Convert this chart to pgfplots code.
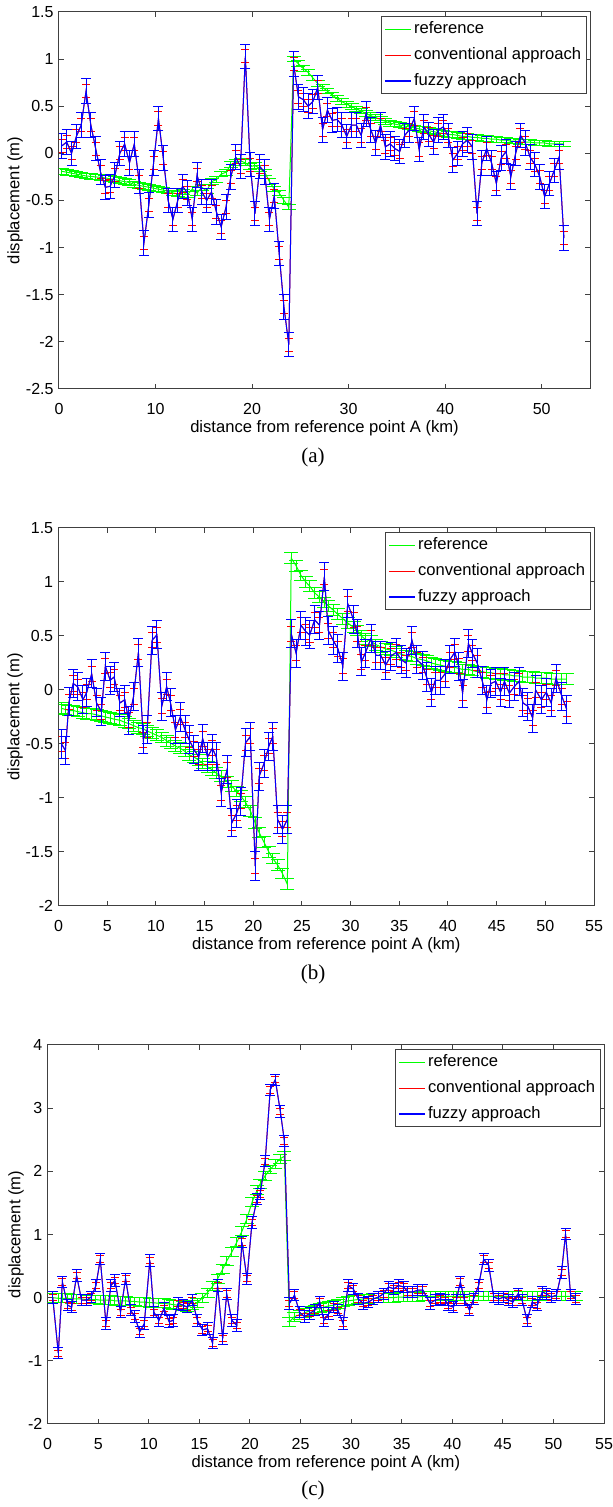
\documentclass[border=0pt]{standalone}
\usepackage{pgfplots}
\pgfplotsset{compat=1.18}
\usepackage{pgfplotstable}
\usepackage{fontspec}
\setmainfont{Liberation Sans}
\newfontfamily\capfont{Liberation Serif}

% panel (a): x, reference, estimated displacement
\pgfplotstableread{
x ref disp
0.3 -0.19 0.08
0.8 -0.20 0.12
1.3 -0.21 0.00
1.8 -0.22 0.18
2.3 -0.23 0.30
2.8 -0.24 0.66
3.3 -0.245 0.30
3.8 -0.25 0.05
4.3 -0.255 -0.20
4.8 -0.26 -0.36
5.3 -0.27 -0.35
5.8 -0.28 -0.23
6.3 -0.29 0.00
6.8 -0.30 0.10
7.3 -0.31 -0.10
7.8 -0.33 0.10
8.3 -0.34 -0.30
8.8 -0.35 -0.95
9.3 -0.36 -0.55
9.8 -0.37 -0.10
10.3 -0.38 0.37
10.8 -0.39 -0.05
11.3 -0.40 -0.50
11.8 -0.42 -0.70
12.3 -0.43 -0.50
12.8 -0.41 -0.35
13.3 -0.44 -0.42
13.8 -0.38 -0.70
14.3 -0.42 -0.23
14.8 -0.36 -0.41
15.3 -0.40 -0.50
15.8 -0.30 -0.41
16.3 -0.28 -0.62
16.8 -0.22 -0.78
17.3 -0.20 -0.57
17.8 -0.12 -0.25
18.3 -0.10 -0.04
18.8 -0.08 -0.14
19.3 -0.10 1.03
19.8 -0.14 -0.12
20.3 -0.13 -0.64
20.8 -0.16 -0.14
21.3 -0.20 -0.20
21.8 -0.30 -0.70
22.3 -0.38 -0.45
22.8 -0.42 -1.06
23.3 -0.50 -1.63
23.8 -0.57 -2.03
24.3 1.00 0.95
24.8 0.95 0.60
25.3 0.90 0.57
25.8 0.86 0.50
26.3 0.80 0.55
26.8 0.74 0.70
27.3 0.70 0.25
27.8 0.66 0.46
28.3 0.62 0.35
28.8 0.58 0.36
29.3 0.55 0.30
29.8 0.52 0.18
30.3 0.50 0.30
30.8 0.47 0.30
31.3 0.45 0.19
31.8 0.42 0.42
32.3 0.40 0.25
32.8 0.38 0.11
33.3 0.36 0.30
33.8 0.34 0.07
34.3 0.32 0.10
34.8 0.31 0.05
35.3 0.30 0.02
35.8 0.29 0.19
36.3 0.28 0.25
36.8 0.27 0.37
37.3 0.26 0.04
37.8 0.25 0.28
38.3 0.24 0.20
38.8 0.23 0.12
39.3 0.22 0.25
39.8 0.21 0.28
40.3 0.20 0.19
40.8 0.20 -0.07
41.3 0.19 0.00
41.8 0.18 0.10
42.3 0.18 0.14
42.8 0.17 0.07
43.3 0.17 -0.64
43.8 0.16 -0.10
44.3 0.16 0.05
44.8 0.15 -0.10
45.3 0.15 -0.32
45.8 0.14 -0.05
46.3 0.14 0.02
46.8 0.13 -0.25
47.3 0.13 0.00
47.8 0.12 0.19
48.3 0.12 0.11
48.8 0.12 -0.04
49.3 0.11 -0.12
49.8 0.11 -0.25
50.3 0.11 -0.46
50.8 0.10 -0.32
51.3 0.10 -0.18
51.8 0.10 -0.04
52.3 0.10 -0.90
}\tabA

% panel (b)
\pgfplotstableread{
x ref disp
0.3 -0.17 -0.50
0.7 -0.18 -0.56
1.07 -0.19 -0.11
1.5 -0.19 0.06
1.96 -0.20 0.03
2.5 -0.21 -0.09
2.9 -0.22 -0.02
3.4 -0.22 0.15
3.9 -0.23 -0.12
4.4 -0.24 -0.20
4.8 -0.25 0.22
5.3 -0.26 0.09
5.7 -0.27 0.12
6.3 -0.28 -0.12
6.8 -0.30 -0.09
7.2 -0.31 -0.28
7.7 -0.33 -0.06
8.2 -0.35 0.35
8.7 -0.36 -0.46
9.1 -0.38 -0.37
9.6 -0.40 0.46
10.1 -0.42 0.51
10.6 -0.44 -0.15
11.1 -0.47 0.03
11.5 -0.49 -0.12
12.0 -0.52 -0.37
12.5 -0.54 -0.25
13.0 -0.57 -0.37
13.4 -0.60 -0.46
13.9 -0.62 -0.55
14.4 -0.65 -0.62
14.8 -0.68 -0.45
15.3 -0.71 -0.62
15.8 -0.74 -0.54
16.2 -0.77 -0.62
16.7 -0.80 -0.95
17.3 -0.85 -0.74
17.8 -0.89 -1.23
18.3 -0.94 -1.14
18.7 -0.98 -1.03
19.2 -1.04 -0.49
19.7 -1.12 -0.43
20.2 -1.23 -1.63
20.6 -1.32 -0.80
21.1 -1.41 -0.68
21.6 -1.50 -0.52
22.0 -1.56 -0.43
22.5 -1.62 -1.20
23.0 -1.70 -1.29
23.5 -1.80 -1.20
23.9 1.22 0.52
24.4 1.15 0.34
24.9 1.06 0.60
25.4 1.00 0.54
25.8 0.96 0.51
26.3 0.90 0.65
26.8 0.86 0.60
27.3 0.81 1.05
27.7 0.78 0.55
28.2 0.74 0.46
28.7 0.70 0.38
29.2 0.66 0.22
29.7 0.62 0.80
30.3 0.58 0.65
30.7 0.55 0.52
31.1 0.50 0.26
31.5 0.47 0.34
32.1 0.45 0.48
32.6 0.42 0.32
33.1 0.40 0.32
33.6 0.38 0.23
34.1 0.37 0.31
34.7 0.35 0.35
35.2 0.33 0.28
35.7 0.32 0.25
36.3 0.31 0.46
36.8 0.29 0.28
37.4 0.28 0.23
37.8 0.27 0.12
38.3 0.25 -0.02
38.7 0.24 0.09
39.2 0.23 0.09
39.7 0.22 0.15
40.2 0.21 0.28
40.7 0.21 0.35
41.1 0.20 0.22
41.5 0.19 -0.03
42.1 0.19 0.43
42.5 0.18 0.34
43.0 0.17 0.25
43.5 0.17 0.09
44.0 0.16 -0.09
44.4 0.16 0.06
44.9 0.15 0.08
45.4 0.15 -0.02
45.8 0.14 0.08
46.3 0.14 -0.03
46.8 0.13 0.03
47.3 0.13 0.08
47.7 0.12 -0.12
48.2 0.12 -0.15
48.7 0.12 -0.26
49.0 0.11 0.00
49.6 0.11 -0.09
50.1 0.11 -0.02
50.6 0.10 -0.12
51.1 0.10 0.11
51.7 0.10 -0.06
52.2 0.10 -0.18
}\tabB

% panel (c)
\pgfplotstableread{
x ref disp
0.5 0.00 0.00
1.05 -0.01 -0.88
1.45 -0.01 0.25
1.97 -0.01 -0.12
2.37 -0.02 -0.15
2.86 -0.02 0.35
3.35 -0.02 -0.04
3.85 -0.03 -0.04
4.3 -0.03 0.01
4.77 -0.03 0.19
5.2 -0.04 0.61
5.76 -0.04 -0.41
6.25 -0.04 0.19
6.65 -0.05 0.27
7.2 -0.05 -0.23
7.7 -0.05 0.30
8.2 -0.06 -0.20
8.6 -0.06 -0.30
9.1 -0.07 -0.54
9.55 -0.07 -0.41
10.1 -0.08 0.59
10.5 -0.08 -0.23
11.0 -0.09 -0.36
11.5 -0.09 -0.17
12.0 -0.10 -0.38
12.4 -0.11 -0.36
12.9 -0.12 -0.09
13.4 -0.13 -0.12
13.8 -0.15 -0.15
14.3 -0.12 -0.04
14.8 -0.08 -0.36
15.3 0.00 -0.51
15.8 0.08 -0.49
16.3 0.18 -0.72
16.8 0.30 0.19
17.3 0.45 -0.65
17.7 0.58 0.06
18.2 0.72 -0.36
18.7 0.88 -0.44
19.2 1.05 0.88
19.7 1.25 0.30
20.2 1.51 1.19
20.7 1.70 1.56
21.0 1.80 1.64
21.5 1.93 2.16
22.0 2.03 3.29
22.5 2.12 3.45
23.0 2.20 2.95
23.4 2.24 2.48
23.9 -0.38 -0.09
24.4 -0.30 0.04
24.9 -0.27 -0.23
25.4 -0.24 -0.30
25.9 -0.21 -0.25
26.4 -0.19 -0.20
26.9 -0.17 -0.07
27.3 -0.15 -0.36
27.8 -0.13 -0.25
28.3 -0.12 -0.15
28.7 -0.10 -0.20
29.2 -0.07 -0.41
29.7 -0.05 0.19
30.2 -0.04 0.14
30.7 -0.03 -0.02
31.2 -0.02 -0.09
31.7 -0.02 -0.07
32.2 -0.01 -0.02
32.7 -0.01 0.01
33.2 0.00 0.06
33.7 0.00 0.17
34.2 0.00 0.14
34.7 0.01 0.19
35.2 0.01 0.17
35.6 0.01 0.09
36.1 0.01 0.09
36.6 0.01 0.12
37.1 0.02 0.12
37.8 0.02 -0.09
38.3 0.02 -0.04
38.8 0.02 -0.02
39.3 0.02 -0.04
39.6 0.02 -0.12
40.1 0.02 -0.15
40.4 0.02 -0.04
40.8 0.02 0.25
41.2 0.02 -0.04
41.7 0.02 -0.20
42.1 0.02 -0.02
42.6 0.02 0.19
43.1 0.02 0.61
43.6 0.02 0.51
44.1 0.02 0.01
44.6 0.02 -0.02
45.1 0.02 0.01
45.6 0.02 -0.04
46.0 0.02 -0.07
46.5 0.02 0.06
46.9 0.02 -0.04
47.4 0.02 -0.36
47.9 0.02 -0.07
48.4 0.02 -0.12
48.9 0.02 0.09
49.3 0.02 0.06
49.8 0.02 0.01
50.3 0.02 0.04
50.8 0.02 0.40
51.2 0.02 1.01
51.7 0.02 0.04
52.2 0.02 -0.02
}\tabC

\pgfplotsset{
  panel/.style={
    scale only axis, anchor=south west,
    xmin=0, xmax=55,
    tick align=inside, major tick length=2.5pt,
    axis line style={black!75, line width=0.5pt},
    every tick/.append style={black!75, line width=0.5pt},
    tick label style={font=\fontsize{8}{9.6}\selectfont, text=black},
    /pgf/number format/assume math mode=true,
    xticklabel style={yshift=-3.5pt},
    yticklabel style={xshift=0.8pt},
    xlabel={distance from reference point A (km)},
    ylabel={displacement (m)},
    label style={font=\fontsize{8.3}{10}\selectfont},
    xlabel style={at={(axis description cs:0.5,0)}, anchor=center, yshift=-19.5pt},
    legend style={at={(1,1)}, anchor=north east, xshift=-1.5pt, yshift=-2pt,
      draw=black!75, line width=0.5pt, fill=white,
      font=\fontsize{8.3}{10}\selectfont, inner xsep=1.5pt, inner ysep=1.5pt,
      row sep=3pt, nodes={inner sep=1.2pt}},
    legend cell align=left,
  },
  greenerr/.style={draw=green, line width=0.5pt, no markers, forget plot,
    error bars/y dir=both, error bars/y fixed=#1,
    error bars/error bar style={line width=0.5pt, draw=green},
    error bars/error mark options={rotate=90, mark size=3.5pt, line width=0.5pt, draw=green}},
  rederr/.style={draw=red, line width=0.5pt, no markers, forget plot,
    error bars/y dir=both, error bars/y fixed=#1,
    error bars/error bar style={line width=0.5pt, draw=red},
    error bars/error mark options={rotate=90, mark size=2pt, line width=0.5pt, draw=red}},
  blueerr/.style={draw=blue, line width=0.5pt, no markers, forget plot,
    error bars/y dir=both, error bars/y fixed=#1,
    error bars/error bar style={line width=0.5pt, draw=blue},
    error bars/error mark options={rotate=90, mark size=2.5pt, line width=0.5pt, draw=blue}},
  keys/.style={legend image code/.code={\draw[##1] (0pt,0pt) -- (13pt,0pt);}},
}

\begin{document}
\begin{tikzpicture}
\useasboundingbox (0,0) rectangle (306.5pt,753.5pt);

% (a)
\begin{axis}[panel, keys, at={(29.5pt,559pt)}, width=265.5pt, height=188.5pt,
  ymin=-2.5, ymax=1.5, xtick={0,10,20,30,40,50},
  ytick={-2.5,-2,-1.5,-1,-0.5,0,0.5,1,1.5},
  ylabel style={at={(axis description cs:-0.0829,0.5)}, anchor=center}]
\addplot[greenerr=0.03] table[x=x, y=ref] {\tabA};
\addplot[rederr=0.07] table[x=x, y=disp] {\tabA};
\addplot[blueerr=0.13] table[x=x, y=disp] {\tabA};
\addlegendimage{draw=green, line width=0.7pt}
\addlegendimage{draw=red, line width=0.7pt}
\addlegendimage{draw=blue, line width=0.7pt}
\legend{reference, conventional approach, fuzzy approach}
\end{axis}
\node[font=\capfont\fontsize{10.5}{12}\selectfont] at (156.5pt,525pt) {(a)};

% (b)
\begin{axis}[panel, keys, at={(29.3pt,300.5pt)}, width=267.7pt, height=189pt,
  ymin=-2, ymax=1.5, xtick={0,5,...,55},
  ytick={-2,-1.5,-1,-0.5,0,0.5,1,1.5},
  ylabel style={at={(axis description cs:-0.0814,0.5)}, anchor=center}]
\addplot[greenerr=0.05] table[x=x, y=ref] {\tabB};
\addplot[rederr=0.07] table[x=x, y=disp] {\tabB};
\addplot[blueerr=0.13] table[x=x, y=disp] {\tabB};
\addlegendimage{draw=green, line width=0.7pt}
\addlegendimage{draw=red, line width=0.7pt}
\addlegendimage{draw=blue, line width=0.7pt}
\legend{reference, conventional approach, fuzzy approach}
\end{axis}
\node[font=\capfont\fontsize{10.5}{12}\selectfont] at (156.5pt,266.5pt) {(b)};

% (c)
\begin{axis}[panel, keys, at={(23.85pt,41.5pt)}, width=278.15pt, height=189.5pt,
  ymin=-2, ymax=4, xtick={0,5,...,55},
  ytick={-2,-1,0,1,2,3,4},
  ylabel style={at={(axis description cs:-0.057,0.5)}, anchor=center}]
\addplot[greenerr=0.07] table[x=x, y=ref] {\tabC};
\addplot[rederr=0.05] table[x=x, y=disp] {\tabC};
\addplot[blueerr=0.09] table[x=x, y=disp] {\tabC};
\addlegendimage{draw=green, line width=0.7pt}
\addlegendimage{draw=red, line width=0.7pt}
\addlegendimage{draw=blue, line width=0.7pt}
\legend{reference, conventional approach, fuzzy approach}
\end{axis}
\node[font=\capfont\fontsize{10.5}{12}\selectfont] at (156.5pt,8.5pt) {(c)};
\end{tikzpicture}
\end{document}
